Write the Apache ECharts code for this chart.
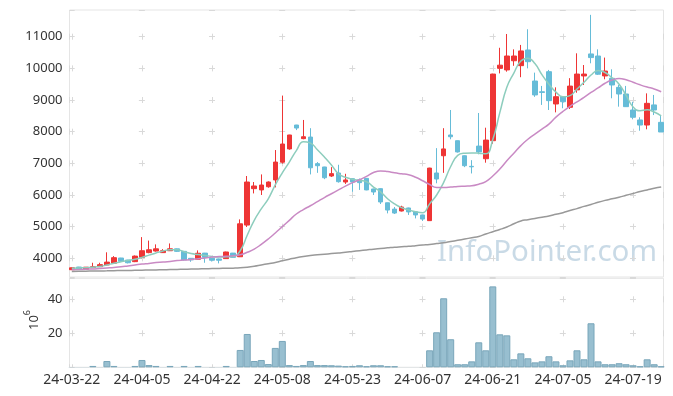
<!DOCTYPE html>
<html><head><meta charset="utf-8">
<script src="https://cdn.jsdelivr.net/npm/echarts@6/dist/echarts.min.js"></script>
<style>html,body{margin:0;padding:0;background:#fff}#c{width:673px;height:396px}</style>
</head><body><div id="c"></div>
<script>
const dates = ['24-03-22','24-03-25','24-03-26','24-03-27','24-03-28','24-03-29','24-04-01','24-04-02','24-04-03','24-04-04',
'24-04-05','24-04-08','24-04-09','24-04-11','24-04-12','24-04-15','24-04-16','24-04-17','24-04-18','24-04-19',
'24-04-22','24-04-23','24-04-24','24-04-25','24-04-26','24-04-29','24-04-30','24-05-02','24-05-03','24-05-07',
'24-05-08','24-05-09','24-05-10','24-05-13','24-05-14','24-05-16','24-05-17','24-05-20','24-05-21','24-05-22',
'24-05-23','24-05-24','24-05-27','24-05-28','24-05-29','24-05-30','24-05-31','24-06-03','24-06-04','24-06-05',
'24-06-07','24-06-10','24-06-11','24-06-12','24-06-13','24-06-14','24-06-17','24-06-18','24-06-19','24-06-20',
'24-06-21','24-06-24','24-06-25','24-06-26','24-06-27','24-06-28','24-07-01','24-07-02','24-07-03','24-07-04',
'24-07-05','24-07-08','24-07-09','24-07-10','24-07-11','24-07-12','24-07-15','24-07-16','24-07-17','24-07-18',
'24-07-19','24-07-22','24-07-23','24-07-24','24-07-25'];
const openP = [3640,3725,3655,3705,3735,3790,3845,4010,3945,3895,
4030,4180,4230,4180,4240,4300,4220,4000,3970,4165,
4000,3980,3990,4165,4050,5050,6200,6160,6260,6475,
7035,7455,8210,7780,7830,6990,6885,6600,6695,6410,
6515,6480,6525,6190,6200,5755,5555,5495,5590,5470,
5370,5190,6695,7240,7895,7715,7240,6905,7545,7145,
7715,10000,9950,10240,10085,10580,9600,9260,9895,8875,
9105,8770,9320,9760,10455,10390,9760,9685,9400,9190,
8685,8370,8210,8845,8295];
const closeP = [3700,3655,3720,3735,3800,3880,4020,3905,3860,4070,
4240,4270,4300,4240,4300,4220,3950,3950,4160,4030,
3940,3940,4200,4030,5090,6410,6285,6315,6410,7040,
7610,7895,8115,7840,6860,6925,6545,6675,6420,6475,
6410,6390,6160,6095,5780,5525,5430,5620,5465,5370,
5240,6850,6505,7455,7840,7360,6925,6890,7360,7735,
9820,10100,10390,10390,10550,10210,9160,9240,8980,9105,
8945,9440,9820,9820,10340,9815,9915,9475,9190,8790,
8455,8210,8895,8685,7990];
const lowP = [3630,3650,3650,3700,3730,3780,3830,3900,3840,3880,
4000,4160,4210,4170,4230,4200,3930,3890,3960,3860,
3900,3840,3980,4020,4040,4990,6050,6000,6230,6240,
6990,7430,8050,7760,6650,6700,6500,6570,6390,6350,
6100,6160,6150,6000,5715,5420,5400,5480,5370,5260,
5180,5180,6370,6700,7760,7340,6880,6680,7285,7020,
7620,9840,9895,10080,9720,10000,9100,8845,8685,8610,
8740,8715,9230,9475,10160,9790,9655,9055,8790,8780,
8390,8030,8075,8525,7990];
const highP = [3710,3730,3725,3860,3860,4190,4070,4015,3950,4090,
4670,4560,4440,4290,4470,4310,4230,4010,4250,4170,
4010,3990,4210,4170,5230,6600,6410,6650,6430,7420,
9140,7900,8215,8370,8110,7040,6890,6880,6955,6670,
6520,6520,6530,6200,6210,5760,5620,5660,5600,5480,
5380,6860,7480,8110,8685,7720,7250,7100,8590,8125,
9830,10650,11085,10600,10740,11235,9865,9445,9950,9400,
9110,9690,10475,10105,11690,10600,10340,9970,9475,9445,
8945,8455,9210,9160,8495];
const volume = [0.1,0.1,0.1,0.8,0.1,3.7,0.8,0.1,0.1,0.8,
4.3,1.3,0.8,0.1,0.8,0.1,0.8,0.1,0.8,0.1,
0.1,0.1,0.8,0.1,10.2,19.6,3.7,4.3,1.9,11.4,
15.5,1.3,0.8,1.3,3.7,1.3,1.3,1.2,1.0,0.6,
0.8,1.2,0.6,1.2,1.2,0.6,0.6,0.05,0.05,0.05,
0.05,10.0,20.6,40.6,16.5,1.8,1.8,3.5,14.7,10.0,
47.6,19.4,18.8,4.7,8.2,5.3,2.9,3.5,6.5,3.5,
1.2,4.1,10.0,4.7,25.9,3.5,1.8,1.8,2.4,1.8,
1.2,0.6,4.7,1.8,0.6];
const ma5 = [3684,3695,3705,3720,3740,3790,3845,3890,3930,3970,
4030,4100,4170,4230,4270,4270,4210,4150,4120,4090,
4060,4040,4050,4060,4240,4730,5200,5560,5880,6320,
6700,7040,7400,7680,7640,7430,7200,6950,6670,6560,
6500,6460,6420,6250,6100,5880,5720,5600,5530,5470,
5440,5720,6000,6400,6900,7250,7320,7330,7320,7300,
7750,8600,9400,9850,10230,10320,10150,9800,9500,9250,
9100,9140,9350,9560,9790,9930,9870,9700,9500,9150,
8780,8660,8690,8620,8500];
const ma20 = [3637,3645,3655,3665,3680,3695,3710,3730,3760,3790,
3820,3840,3865,3880,3900,3930,3945,3960,3990,4010,
4040,4055,4065,4080,4110,4190,4290,4440,4610,4800,
5000,5200,5400,5540,5660,5790,5920,6040,6160,6280,
6390,6480,6590,6710,6760,6740,6700,6670,6640,6560,
6450,6330,6240,6240,6250,6270,6280,6290,6340,6420,
6600,6820,7080,7320,7560,7760,7920,8080,8240,8460,
8640,8800,8940,9080,9240,9380,9530,9630,9680,9640,
9560,9480,9410,9350,9260];
const ma60 = [3585,3590,3595,3598,3600,3605,3610,3613,3616,3620,
3625,3630,3635,3640,3645,3650,3655,3660,3665,3670,
3675,3680,3685,3690,3700,3720,3750,3790,3830,3870,
3920,3970,4020,4060,4090,4110,4130,4150,4170,4190,
4215,4240,4265,4290,4310,4330,4350,4365,4380,4400,
4420,4440,4465,4490,4530,4570,4610,4650,4690,4770,
4840,4910,4990,5090,5180,5220,5260,5300,5340,5390,
5440,5510,5570,5640,5700,5770,5830,5880,5930,5990,
6050,6110,6160,6210,6250];

const candleData = dates.map((d, i) => [i, openP[i], closeP[i], lowP[i], highP[i]]);
const volData = volume.map((v, i) => ({value: [i, v], itemStyle: v < 0.3 ? {borderWidth: 0} : undefined}));
const line = arr => arr.map((v, i) => [i, v]);

const FONT = 'Noto Sans';
const gridColor = '#e5e5e5';
const crossColor = '#d9d9d9';

const chart = echarts.init(document.getElementById('c'), null, {renderer: 'canvas'});
chart.setOption({
  animation: false,
  backgroundColor: '#fff',
  grid: [
    {left: 69.5, width: 594, top: 10, height: 267, show: true, borderColor: gridColor, borderWidth: 1},
    {left: 69.5, width: 594, top: 278.3, height: 89, show: true, borderColor: gridColor, borderWidth: 1}
  ],
  xAxis: [
    {type: 'value', gridIndex: 0, min: -0.33, max: 84.33, minInterval: 10, maxInterval: 10,
     axisLine: {show: false}, axisTick: {show: false}, axisLabel: {show: false},
     splitLine: {show: true, lineStyle: {color: crossColor, width: 1, type: [6, 25.66], dashOffset: 7.96}}},
    {type: 'value', gridIndex: 1, min: -0.33, max: 84.33, minInterval: 10, maxInterval: 10,
     axisLine: {show: false}, axisTick: {show: false},
     axisLabel: {show: true, showMinLabel: false, showMaxLabel: false, color: '#333', fontFamily: FONT, fontSize: 14, margin: 6,
       formatter: v => { const k = Math.round(v); return (Math.abs(v - k) < 1e-6 && dates[k]) ? dates[k] : ''; }},
     splitLine: {show: true, lineStyle: {color: crossColor, width: 1, type: [6, 28], dashOffset: 16}}}
  ],
  yAxis: [
    {type: 'value', gridIndex: 0, min: 3410, max: 11843, minInterval: 1000, maxInterval: 1000, splitNumber: 8,
     axisLine: {show: false}, axisTick: {show: false},
     axisLabel: {show: true, showMinLabel: false, showMaxLabel: false, color: '#333', fontFamily: FONT, fontSize: 13, margin: 7,
       formatter: v => String(Math.round(v))},
     splitLine: {show: true, lineStyle: {color: crossColor, width: 1, type: [6, 64.16], dashOffset: 0.8}}},
    {type: 'value', gridIndex: 1, min: 0, max: 52.35, interval: 20,
     axisLine: {show: false}, axisTick: {show: false},
     axisLabel: {show: true, showMinLabel: false, showMaxLabel: false, color: '#333', fontFamily: FONT, fontSize: 13, margin: 7,
       formatter: v => String(Math.round(v))},
     splitLine: {show: true, lineStyle: {color: crossColor, width: 1, type: [6, 64.16], dashOffset: 0.8}}}
  ],
  graphic: [
    {type: 'text', left: 437, top: 238, z: 0, silent: true,
     style: {text: 'InfoPointer.com', fontFamily: FONT, fontSize: 29.5, fill: 'rgba(165,193,214,0.6)'}},
    {type: 'text', x: 32, y: 320, rotation: Math.PI / 2, silent: true,
     style: {text: '{a|10}{b|6}', align: 'center', verticalAlign: 'middle', fill: '#333',
       rich: {a: {fontFamily: FONT, fontSize: 13, lineHeight: 18, verticalAlign: 'bottom'},
              b: {fontFamily: FONT, fontSize: 9, lineHeight: 18, verticalAlign: 'top'}}}}
  ],
  series: [
    {name: 'price', type: 'candlestick', xAxisIndex: 0, yAxisIndex: 0, data: candleData, barWidth: 5,
     itemStyle: {color: '#ee3535', color0: '#66bcd8', borderColor: '#ee3535', borderColor0: '#66bcd8', borderWidth: 1}},
    {name: 'MA5', type: 'line', xAxisIndex: 0, yAxisIndex: 0, data: line(ma5), showSymbol: false, smooth: true,
     lineStyle: {color: '#8dcdbd', width: 1.5}},
    {name: 'MA20', type: 'line', xAxisIndex: 0, yAxisIndex: 0, data: line(ma20), showSymbol: false, smooth: true,
     lineStyle: {color: '#c98ac4', width: 1.5}},
    {name: 'MA60', type: 'line', xAxisIndex: 0, yAxisIndex: 0, data: line(ma60), showSymbol: false, smooth: true,
     lineStyle: {color: '#999999', width: 1.5}},
    {name: 'volume', type: 'bar', xAxisIndex: 1, yAxisIndex: 1, data: volData, barWidth: 7,
     itemStyle: {color: '#98bfd0', borderColor: '#79a6ba', borderWidth: 1}}
  ]
});
</script>
</body></html>
